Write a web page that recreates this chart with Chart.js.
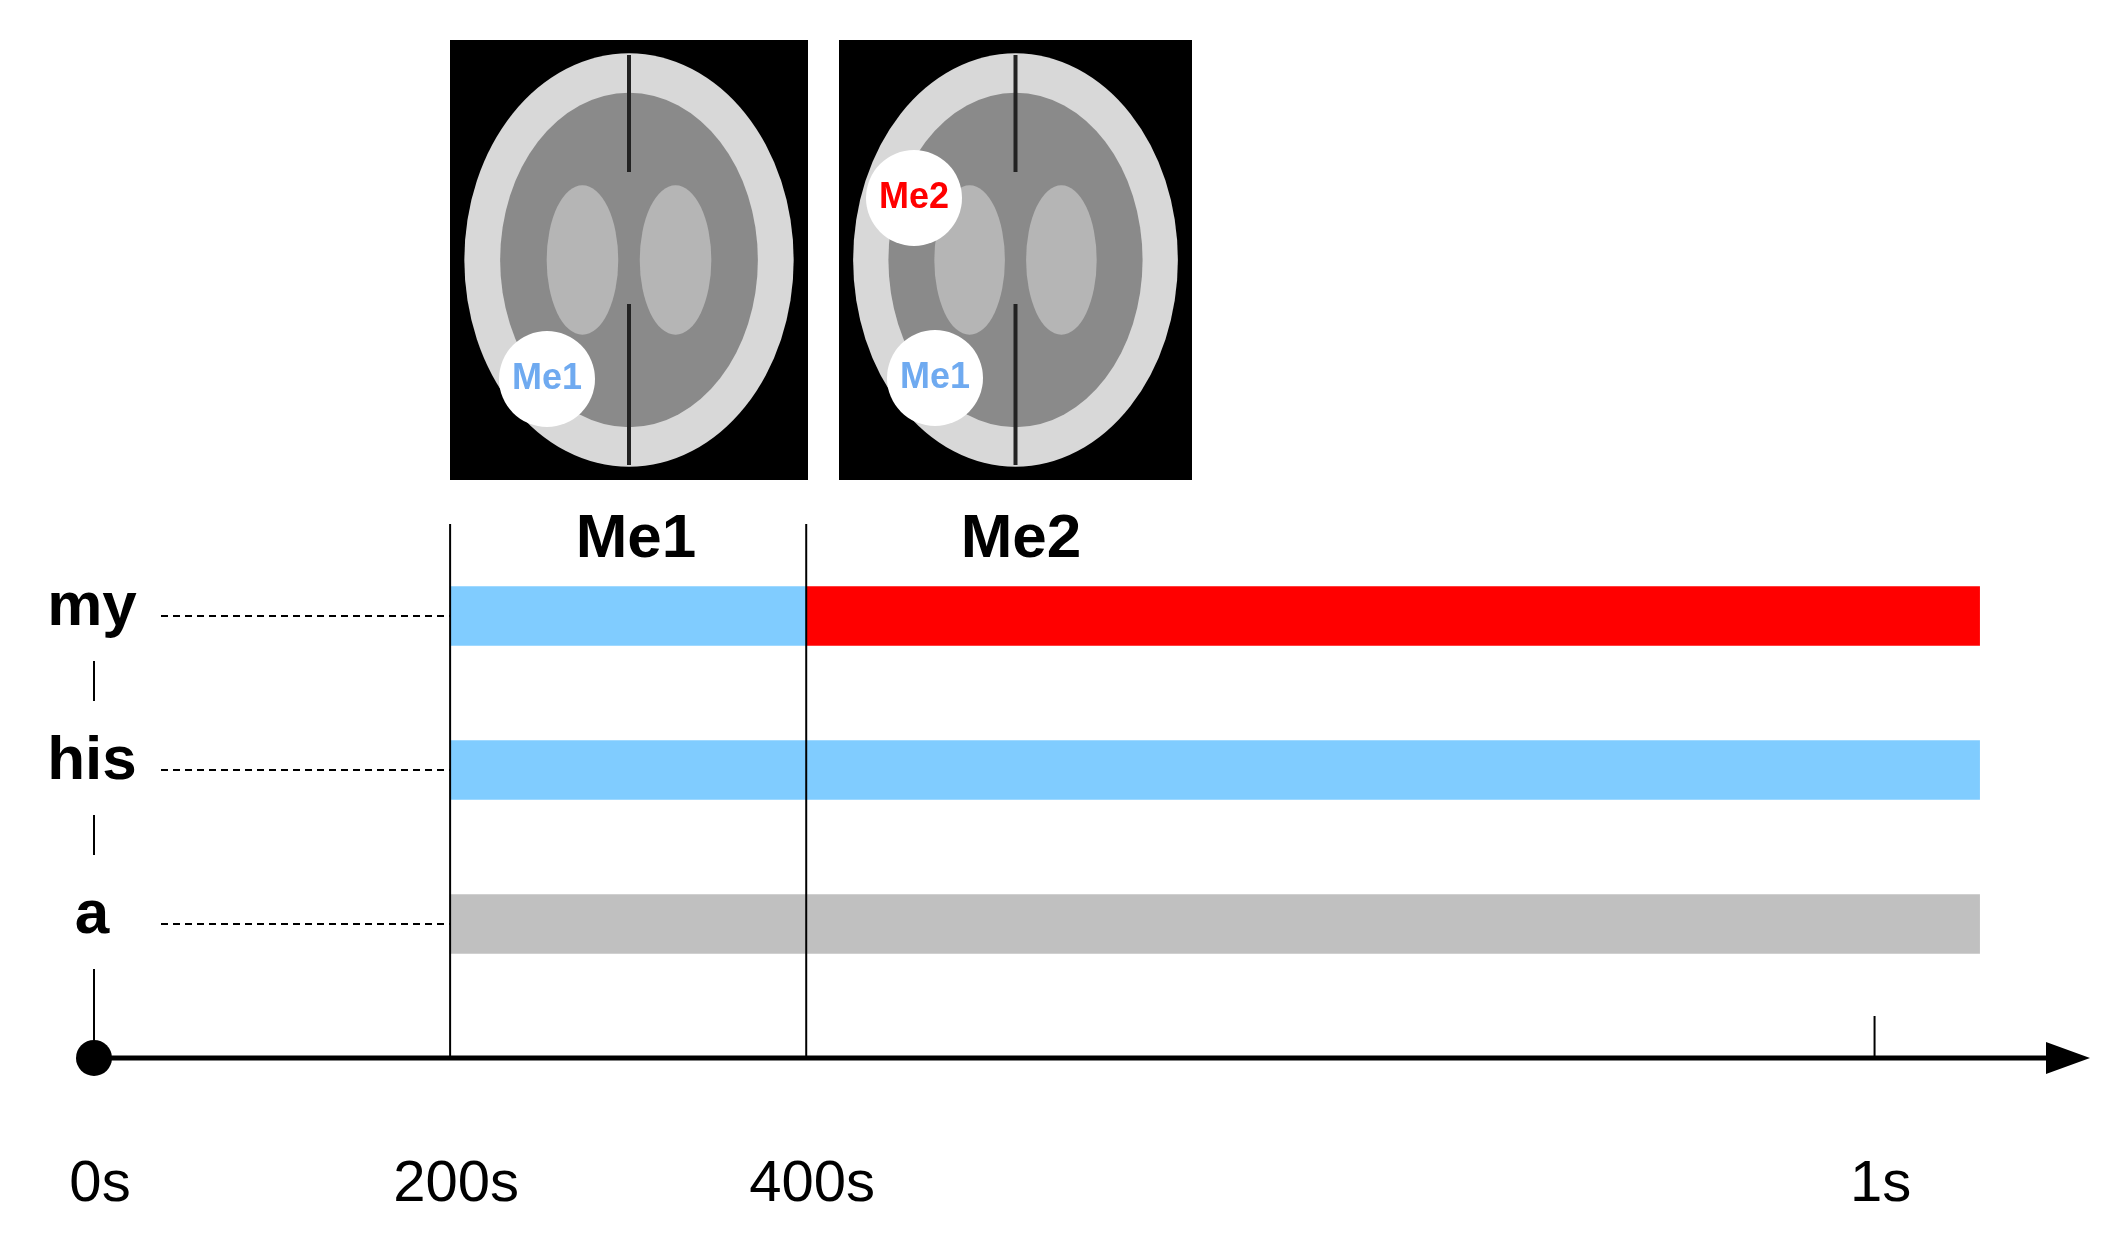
<!DOCTYPE html>
<html><head><meta charset="utf-8">
<script src="https://cdn.jsdelivr.net/npm/chart.js@4/dist/chart.umd.min.js"></script>
<style>html,body{margin:0;padding:0;background:#fff}#w{width:2108px;height:1251px}</style>
</head><body><div id="w"><canvas id="c"></canvas></div>
<script>
const rows = ['my', 'his', 'a'];
const phase1 = [[200, 400], [200, 400], [200, 400]];
const phase2 = [[400, 1059], [400, 1059], [400, 1059]];
const phase1Colors = ['#80CCFF', '#80CCFF', '#C0C0C0'];
const phase2Colors = ['#FF0000', '#80CCFF', '#C0C0C0'];
const tickValues = [0, 200, 400, 1000];
const tickLabels = ['0s', '200s', '400s', '1s'];
const phaseLabels = ['Me1', 'Me2'];
const axisMax = 1121;

const deco = {
  id: 'deco',
  afterDraw(chart) {
    const ctx = chart.ctx, xs = chart.scales.x, ys = chart.scales.y;
    const X = v => xs.getPixelForValue(v);
    const rowY = rows.map((r, i) => ys.getPixelForValue(i));
    const band = rowY[1] - rowY[0];
    const axisY = rowY[2] + band * 0.87;
    const x0 = X(0);
    ctx.save();
    ctx.strokeStyle = '#000'; ctx.fillStyle = '#000';
    ctx.lineWidth = 5;
    ctx.beginPath(); ctx.moveTo(x0, axisY); ctx.lineTo(X(axisMax) - 30, axisY); ctx.stroke();
    ctx.beginPath(); ctx.moveTo(X(axisMax), axisY); ctx.lineTo(X(axisMax) - 44, axisY - 16); ctx.lineTo(X(axisMax) - 44, axisY + 16); ctx.closePath(); ctx.fill();
    ctx.beginPath(); ctx.arc(x0, axisY, 18, 0, Math.PI * 2); ctx.fill();
    ctx.lineWidth = 2;
    [200, 400].forEach(v => { ctx.beginPath(); ctx.moveTo(X(v), 524); ctx.lineTo(X(v), axisY); ctx.stroke(); });
    ctx.beginPath(); ctx.moveTo(X(1000), axisY - 42); ctx.lineTo(X(1000), axisY); ctx.stroke();
    ctx.beginPath();
    ctx.moveTo(x0, rowY[0] + 45); ctx.lineTo(x0, rowY[0] + 85);
    ctx.moveTo(x0, rowY[1] + 45); ctx.lineTo(x0, rowY[1] + 85);
    ctx.moveTo(x0, rowY[2] + 45); ctx.lineTo(x0, axisY);
    ctx.stroke();
    ctx.setLineDash([7, 5]); ctx.lineWidth = 2;
    rowY.forEach(y => { ctx.beginPath(); ctx.moveTo(161, y); ctx.lineTo(X(200), y); ctx.stroke(); });
    ctx.setLineDash([]);
    ctx.textAlign = 'center'; ctx.textBaseline = 'middle';
    ctx.font = 'bold 62px "Liberation Sans", Arial';
    rows.forEach((r, i) => ctx.fillText(r, x0 - 2, rowY[i] - 8));
    ctx.font = '58px "Liberation Sans", Arial';
    tickValues.forEach((v, i) => ctx.fillText(tickLabels[i], X(v) + 6, 1185));
    ctx.font = 'bold 62px "Liberation Sans", Arial';
    ctx.fillText(phaseLabels[0], 636, 540);
    ctx.fillText(phaseLabels[1], 1021, 540);
    const brain = (x, y, w, h, circles) => {
      ctx.fillStyle = '#000'; ctx.fillRect(x, y, w, h);
      const cx = x + w / 2, cy = y + h / 2;
      ctx.fillStyle = '#d8d8d8';
      ctx.beginPath(); ctx.ellipse(cx, cy, w * 0.46, h * 0.47, 0, 0, Math.PI * 2); ctx.fill();
      ctx.fillStyle = '#8a8a8a';
      ctx.beginPath(); ctx.ellipse(cx, cy, w * 0.36, h * 0.38, 0, 0, Math.PI * 2); ctx.fill();
      ctx.fillStyle = '#b5b5b5';
      ctx.beginPath(); ctx.ellipse(cx - w * 0.13, cy, w * 0.1, h * 0.17, 0, 0, Math.PI * 2); ctx.fill();
      ctx.beginPath(); ctx.ellipse(cx + w * 0.13, cy, w * 0.1, h * 0.17, 0, 0, Math.PI * 2); ctx.fill();
      ctx.strokeStyle = '#222'; ctx.lineWidth = 4;
      ctx.beginPath(); ctx.moveTo(cx, y + 15); ctx.lineTo(cx, y + h * 0.3); ctx.moveTo(cx, y + h * 0.6); ctx.lineTo(cx, y + h - 15); ctx.stroke();
      circles.forEach(c => {
        ctx.fillStyle = '#fff';
        ctx.beginPath(); ctx.arc(c[0], c[1], 48, 0, Math.PI * 2); ctx.fill();
        ctx.fillStyle = c[3]; ctx.font = 'bold 36px "Liberation Sans", Arial';
        ctx.fillText(c[2], c[0], c[1]);
      });
    };
    brain(450, 40, 358, 440, [[547, 379, 'Me1', '#6FAAF0']]);
    brain(839, 40, 353, 440, [[914, 198, 'Me2', '#FF0000'], [935, 378, 'Me1', '#6FAAF0']]);
    ctx.restore();
  }
};

new Chart(document.getElementById('c'), {
  type: 'bar',
  data: {
    labels: rows,
    datasets: [
      { data: phase1, backgroundColor: phase1Colors, barThickness: 59, grouped: false },
      { data: phase2, backgroundColor: phase2Colors, barThickness: 59, grouped: false }
    ]
  },
  options: {
    indexAxis: 'y', responsive: true, maintainAspectRatio: false, animation: false,
    layout: { padding: { left: 94, right: 18, top: 539, bottom: 250 } },
    plugins: { legend: { display: false }, tooltip: { enabled: false } },
    scales: {
      x: { type: 'linear', min: 0, max: axisMax, display: false },
      y: { display: false, offset: true }
    }
  },
  plugins: [deco]
});
</script></body></html>
